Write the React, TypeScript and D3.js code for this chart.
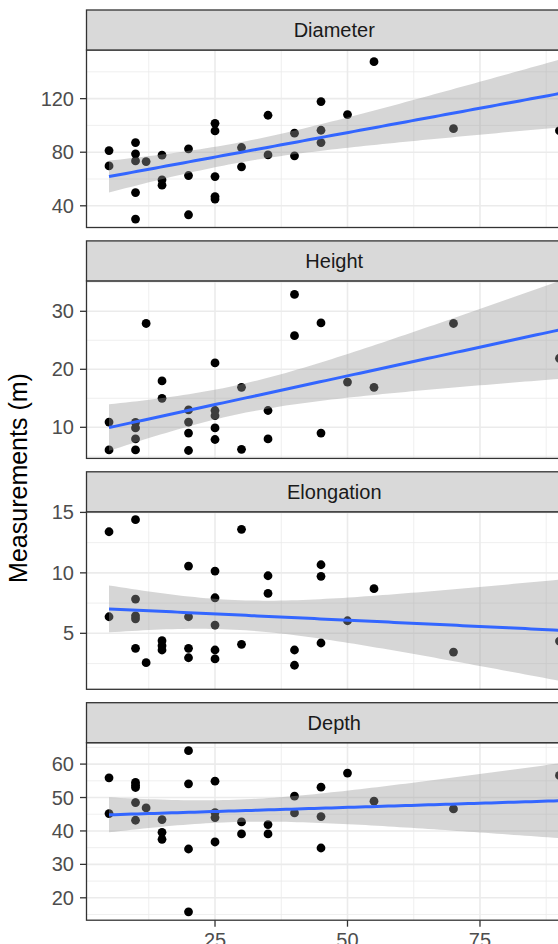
import React from "react";
import * as d3 from "d3";

// ---------- data ----------
const facetLabels = ["Diameter", "Height", "Elongation", "Depth"];

const diameterX = [5, 5, 10, 10, 10, 10, 10, 12, 15, 15, 15, 20, 20, 20, 25, 25, 25, 25, 25, 30, 30, 35, 35, 40, 40, 45, 45, 45, 50, 55, 70, 90];
const diameterY = [81.2, 69.8, 87.2, 78.8, 73.5, 49.9, 30.1, 73.0, 77.8, 59.4, 55.4, 82.5, 62.6, 33.3, 101.6, 95.9, 61.8, 46.9, 45.0, 83.5, 69.1, 107.6, 78.0, 94.2, 77.3, 117.8, 96.4, 87.2, 108.1, 147.6, 97.6, 96.1];

const heightX = [5, 5, 10, 10, 10, 10, 12, 15, 15, 20, 20, 20, 20, 25, 25, 25, 25, 25, 30, 30, 35, 35, 40, 40, 45, 45, 50, 55, 70, 90];
const heightY = [10.9, 6.1, 10.85, 9.9, 8.0, 6.1, 27.9, 18.0, 15.0, 13.0, 10.9, 9.0, 6.0, 21.1, 12.9, 12.0, 9.9, 7.9, 16.9, 6.2, 12.9, 8.0, 32.9, 25.8, 28.0, 9.0, 17.8, 16.9, 27.9, 21.9];

const elongationX = [5, 5, 10, 10, 10, 10, 10, 12, 15, 15, 15, 20, 20, 20, 20, 25, 25, 25, 25, 25, 30, 30, 35, 35, 40, 40, 45, 45, 45, 50, 55, 70, 90];
const elongationY = [13.4, 6.37, 14.4, 7.83, 6.45, 6.2, 3.76, 2.57, 4.39, 3.98, 3.62, 10.56, 6.37, 3.76, 2.98, 10.15, 7.94, 5.68, 3.62, 2.88, 13.6, 4.09, 9.76, 8.3, 3.62, 2.36, 10.67, 9.71, 4.2, 6.04, 8.69, 3.45, 4.36];

const depthX = [5, 5, 10, 10, 10, 10, 10, 12, 15, 15, 15, 20, 20, 20, 20, 25, 25, 25, 25, 30, 30, 35, 35, 40, 40, 45, 45, 45, 50, 55, 70, 90];
const depthY = [55.9, 45.2, 54.5, 53.7, 53.0, 48.5, 43.2, 46.9, 43.4, 39.6, 37.5, 64.0, 54.1, 34.6, 15.8, 54.9, 45.5, 44.0, 36.7, 42.7, 39.1, 41.9, 39.1, 50.4, 45.4, 53.1, 44.3, 34.9, 57.3, 48.9, 46.6, 56.6];

const facetX = [diameterX, heightX, elongationX, depthX];
const facetY = [diameterY, heightY, elongationY, depthY];

// axis limits and breaks (data units)
const xLimits = [0.75, 94.25];
const xTicks = [25, 50, 75];
const yLimits = [
  [23.8, 156.3],
  [4.64, 35.24],
  [0.37, 15.05],
  [13.3, 66.4],
];
const yTicks = [
  [40, 80, 120],
  [10, 20, 30],
  [5, 10, 15],
  [20, 30, 40, 50, 60],
];
const yTitle = "Measurements (m)";

// ---------- helpers ----------
function tQuantile975(df: number) {
  const z = 1.959964;
  const z3 = z * z * z, z5 = z3 * z * z, z7 = z5 * z * z;
  return (
    z +
    (z3 + z) / (4 * df) +
    (5 * z5 + 16 * z3 + 3 * z) / (96 * df * df) +
    (3 * z7 + 19 * z5 + 17 * z3 - 15 * z) / (384 * df * df * df)
  );
}

function lmFit(xs: number[], ys: number[]) {
  const n = xs.length;
  const mx = d3.mean(xs)!;
  const my = d3.mean(ys)!;
  let sxx = 0, sxy = 0;
  for (let i = 0; i < n; i++) {
    sxx += (xs[i] - mx) ** 2;
    sxy += (xs[i] - mx) * (ys[i] - my);
  }
  const b = sxy / sxx;
  const a = my - b * mx;
  let sse = 0;
  for (let i = 0; i < n; i++) sse += (ys[i] - (a + b * xs[i])) ** 2;
  const s = Math.sqrt(sse / (n - 2));
  const t = tQuantile975(n - 2);
  const x0 = d3.min(xs)!, x1 = d3.max(xs)!;
  const pts = d3.range(80).map((i) => {
    const x = x0 + ((x1 - x0) * i) / 79;
    const fit = a + b * x;
    const se = s * Math.sqrt(1 / n + (x - mx) ** 2 / sxx);
    return { x, fit, lo: fit - t * se, hi: fit + t * se };
  });
  return pts;
}

function minorBreaks(major: number[], lim: number[]) {
  const step = major[1] - major[0];
  const out: number[] = [];
  for (let v = major[0] - step; v <= major[major.length - 1] + step + 1e-9; v += step / 2) {
    const isMajor = major.some((m) => Math.abs(m - v) < 1e-9);
    if (!isMajor && v >= lim[0] && v <= lim[1]) out.push(v);
  }
  return out;
}

// ---------- component ----------
export default function App() {
  const W = 558, H = 944;
  const font = "'Liberation Sans', Arial, Helvetica, sans-serif";
  const panelLeft = 86.5, panelRight = 582;
  const firstStripTop = 10, facetStep = 230.9, stripH = 40, panelH = 177.5;

  const x = d3.scaleLinear().domain(xLimits).range([panelLeft, panelRight]);
  const xMinor = minorBreaks(xTicks, xLimits);
  const cx = (panelLeft + panelRight) / 2;

  const lastBottom = firstStripTop + 3 * facetStep + stripH + panelH;

  return (
    <svg
      width={W}
      height={H}
      viewBox={`0 0 ${W} ${H}`}
      style={{ position: "absolute", left: 0, top: 0, background: "#ffffff" }}
      fontFamily={font}
    >
      <rect x={0} y={0} width={W} height={H} fill="#ffffff" />
      <defs>
        {facetLabels.map((_, i) => {
          const top = firstStripTop + i * facetStep + stripH;
          return (
            <clipPath id={`clip${i}`} key={i}>
              <rect x={panelLeft} y={top} width={panelRight - panelLeft} height={panelH} />
            </clipPath>
          );
        })}
      </defs>

      {facetLabels.map((label, i) => {
        const stripTop = firstStripTop + i * facetStep;
        const top = stripTop + stripH;
        const bottom = top + panelH;
        const y = d3.scaleLinear().domain(yLimits[i]).range([bottom, top]);
        const yMinor = minorBreaks(yTicks[i], yLimits[i]);
        const fit = lmFit(facetX[i], facetY[i]);
        const area = d3
          .area<{ x: number; lo: number; hi: number }>()
          .x((d) => x(d.x))
          .y0((d) => y(d.lo))
          .y1((d) => y(d.hi));
        const line = d3
          .line<{ x: number; fit: number }>()
          .x((d) => x(d.x))
          .y((d) => y(d.fit));
        return (
          <g key={label}>
            {/* panel background */}
            <rect x={panelLeft} y={top} width={panelRight - panelLeft} height={panelH} fill="#ffffff" />
            <g clipPath={`url(#clip${i})`}>
              {yMinor.map((v) => (
                <line key={"ym" + v} x1={panelLeft} x2={panelRight} y1={y(v)} y2={y(v)} stroke="#EBEBEB" strokeWidth={0.8} />
              ))}
              {xMinor.map((v) => (
                <line key={"xm" + v} x1={x(v)} x2={x(v)} y1={top} y2={bottom} stroke="#EBEBEB" strokeWidth={0.8} />
              ))}
              {yTicks[i].map((v) => (
                <line key={"yM" + v} x1={panelLeft} x2={panelRight} y1={y(v)} y2={y(v)} stroke="#EBEBEB" strokeWidth={1.6} />
              ))}
              {xTicks.map((v) => (
                <line key={"xM" + v} x1={x(v)} x2={x(v)} y1={top} y2={bottom} stroke="#EBEBEB" strokeWidth={1.6} />
              ))}
              {facetX[i].map((xv, j) => (
                <circle key={"p" + j} cx={x(xv)} cy={y(facetY[i][j])} r={4.4} fill="#000000" />
              ))}
              <path d={area(fit) || ""} fill="#999999" fillOpacity={0.4} />
              <path d={line(fit) || ""} fill="none" stroke="#3366FF" strokeWidth={3} />
            </g>
            <rect x={panelLeft} y={top} width={panelRight - panelLeft} height={panelH} fill="none" stroke="#333333" strokeWidth={1.3} />
            {/* strip */}
            <rect x={panelLeft} y={stripTop} width={panelRight - panelLeft} height={stripH} fill="#D9D9D9" stroke="#333333" strokeWidth={1.3} />
            <text x={cx} y={stripTop + stripH / 2 + 7.3} textAnchor="middle" fontSize={20} fill="#1A1A1A">
              {label}
            </text>
            {/* y axis */}
            {yTicks[i].map((v) => (
              <g key={"yt" + v}>
                <line x1={panelLeft - 6.5} x2={panelLeft} y1={y(v)} y2={y(v)} stroke="#333333" strokeWidth={1.3} />
                <text x={panelLeft - 12.5} y={y(v) + 7} textAnchor="end" fontSize={20} fill="#4D4D4D">
                  {v}
                </text>
              </g>
            ))}
          </g>
        );
      })}

      {/* x axis (bottom panel) */}
      {xTicks.map((v) => (
        <g key={"xt" + v}>
          <line x1={x(v)} x2={x(v)} y1={lastBottom} y2={lastBottom + 6.5} stroke="#333333" strokeWidth={1.3} />
          <text x={x(v)} y={lastBottom + 27} textAnchor="middle" fontSize={20} fill="#4D4D4D">
            {v}
          </text>
        </g>
      ))}

      {/* y title */}
      <text
        transform={`translate(27, 478) rotate(-90)`}
        textAnchor="middle"
        fontSize={25}
        fill="#000000"
      >
        {yTitle}
      </text>
    </svg>
  );
}
